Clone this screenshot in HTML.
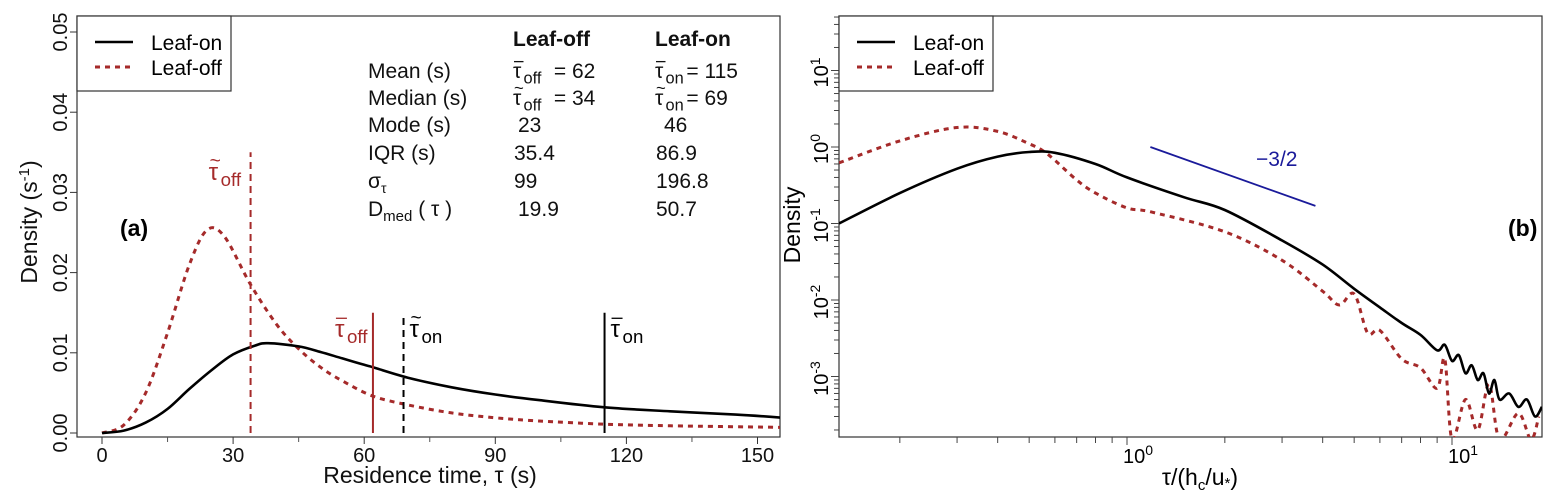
<!DOCTYPE html>
<html><head><meta charset="utf-8"><style>
body{margin:0;background:#fff;}
svg{font-family:"Liberation Sans",sans-serif;display:block;}
</style></head><body>
<svg id="chart" width="1557" height="500" viewBox="0 0 1557 500">
<defs>
<clipPath id="clipA"><rect x="77" y="16" width="703" height="421"/></clipPath>
<clipPath id="clipB"><rect x="839" y="16" width="703" height="421"/></clipPath>
</defs>
<g id="pa"></g>
<g id="pb"></g>
</svg>
<script>
// Panel (a) data
const aOnX = [0,5,10,15,20,25,30,35,38,45,50,55,60,62,70,80,90,100,115,130,145,156];
const aOnY = [0,0.0003,0.0013,0.003,0.0055,0.0078,0.0098,0.0109,0.0112,0.0108,0.0101,0.0093,0.0085,0.0082,0.0069,0.0057,0.0048,0.0041,0.0032,0.0027,0.0023,0.0019];
const aOffX = [0,5,10,15,20,24,28,34,40,45,50,55,62,70,80,90,100,115,130,156];
const aOffY = [0,0.001,0.005,0.0125,0.021,0.0253,0.0245,0.0185,0.0135,0.0105,0.0082,0.0065,0.0046,0.0035,0.0025,0.0019,0.0015,0.0011,0.0009,0.0007];
const aXTicks = [0,30,60,90,120,150];
const aYTicks = [0,0.01,0.02,0.03,0.04,0.05];
const aYLabels = ["0.00","0.01","0.02","0.03","0.04","0.05"];
const vlineX = [34,62,69,115];
const vlineTop = [0.035,0.015,0.0146,0.015];
// Panel (b) data
const bOnX = [0.13,0.2,0.3,0.4,0.5,0.6,0.8,1.0,1.5,2,3,4,5,6,7,8,9,9.5,10,10.5,11,11.5,12,12.5,13,13.5,14,15,16,17,18,18.9];
const bOnY = [0.1,0.25,0.52,0.75,0.86,0.84,0.6,0.4,0.22,0.15,0.06,0.029,0.014,0.008,0.005,0.0035,0.0022,0.0026,0.0016,0.0019,0.0011,0.0014,0.0009,0.0011,0.0006,0.0009,0.0005,0.0006,0.0004,0.0005,0.0003,0.0004];
const bOffX = [0.13,0.2,0.3,0.4,0.5,0.55,0.6,0.7,0.8,1.0,1.2,2,3,4,4.5,5,5.5,6,7,8,9,9.5,10,11,12,13,14,16,17.5,18.5];
const bOffY = [0.62,1.2,1.8,1.6,1.1,0.9,0.67,0.37,0.25,0.16,0.14,0.078,0.033,0.013,0.0086,0.012,0.0037,0.004,0.0017,0.0013,0.0007,0.0017,0.00015,0.0005,0.0002,0.0008,0.00015,0.00033,0.00015,0.0003];
const bSlopeX = [1.18,3.8];
const bSlopeY = [1.0,0.17];
const bXDec = [0,1];
const bYDec = [-3,-2,-1,0,1];

const NS="http://www.w3.org/2000/svg";
function mk(parent,tag,attrs,text){const e=document.createElementNS(NS,tag);for(const k in attrs)e.setAttribute(k,attrs[k]);if(text!==undefined)e.textContent=text;parent.appendChild(e);return e;}
const pa=document.getElementById('pa'), pb=document.getElementById('pb');
const RED="#a52a2a";

const ax=v=>102+v*4.37, ay=v=>433-v*8020;
const bx=v=>1127+325*Math.log10(v), by=v=>147-76.5*Math.log10(v);

function smooth(pts){let d=`M${pts[0][0]},${pts[0][1]}`;for(let i=0;i<pts.length-1;i++){const p0=pts[Math.max(i-1,0)],p1=pts[i],p2=pts[i+1],p3=pts[Math.min(i+2,pts.length-1)];const c1=[p1[0]+(p2[0]-p0[0])/6,p1[1]+(p2[1]-p0[1])/6],c2=[p2[0]-(p3[0]-p1[0])/6,p2[1]-(p3[1]-p1[1])/6];d+=`C${c1[0].toFixed(1)},${c1[1].toFixed(1)} ${c2[0].toFixed(1)},${c2[1].toFixed(1)} ${p2[0].toFixed(1)},${p2[1].toFixed(1)}`;}return d;}

// tau with mark drawn above as separate glyph
function tau(parent,x,y,mark,sub,col,fs,rest,name){
 const g=mk(parent,'g',{fill:col});
 mk(g,'text',{x:x,y:y,'font-size':fs},'τ');
 if(mark==='bar'){mk(g,'line',{x1:x+1,x2:x+fs*0.5,y1:y-fs*0.78,y2:y-fs*0.78,stroke:col,'stroke-width':1.3});}
 else {mk(g,'text',{x:x+1,y:y-fs*0.55,'font-size':fs*0.8},'~');}
 const t=mk(g,'text',{x:x+fs*0.5,y:y+fs*0.25,'font-size':fs*0.78},sub);
 if(rest){const r=mk(g,'text',{x:x+fs*0.5+sub.length*fs*0.45+2,y:y,'font-size':fs},rest);}
 return g;}

// ---------- Panel A ----------
let e;
e=mk(pa,'rect',{x:77,y:16,width:703,height:421,fill:'none',stroke:'#333','stroke-width':1.2});

aXTicks.forEach(t=>{e=mk(pa,'line',{x1:ax(t),x2:ax(t),y1:437,y2:444,stroke:'#333'});
 e=mk(pa,'text',{x:ax(t),y:462,'font-size':20,'text-anchor':'middle',fill:'#111'},String(t));});
[15,45,75,105,135].forEach(t=>{e=mk(pa,'line',{x1:ax(t),x2:ax(t),y1:437,y2:442,stroke:'#555'});});
aYTicks.forEach((t,i)=>{const y=ay(t);e=mk(pa,'line',{x1:70,x2:77,y1:y,y2:y,stroke:'#333'});
 e=mk(pa,'text',{x:0,y:0,'font-size':20,'text-anchor':'middle',fill:'#111',transform:`translate(67,${y}) rotate(-90)`},aYLabels[i]);});
e=mk(pa,'text',{x:430,y:483,'font-size':23,'text-anchor':'middle',fill:'#111'},'Residence time, τ (s)');
e=mk(pa,'text',{x:0,y:0,'font-size':23,'text-anchor':'middle',fill:'#111',transform:'translate(37,222) rotate(-90)'});
e.innerHTML='Density (s<tspan dy="-8" font-size="15">-1</tspan><tspan dy="8">)</tspan>';

const ga=mk(pa,'g',{'clip-path':'url(#clipA)'});
e=mk(ga,'path',{d:smooth(aOffX.map((x,i)=>[ax(x),ay(aOffY[i])])),fill:'none',stroke:RED,'stroke-width':3,'stroke-dasharray':'5,5'});
e=mk(ga,'path',{d:smooth(aOnX.map((x,i)=>[ax(x),ay(aOnY[i])])),fill:'none',stroke:'#000','stroke-width':2.6});
const vStyles=[{c:RED,d:'7,5'},{c:RED,d:''},{c:'#000',d:'7,5'},{c:'#000',d:''}];
const vNames=['median-leaf-off-line','mean-leaf-off-line','median-leaf-on-line','mean-leaf-on-line'];
vlineX.forEach((x,i)=>{e=mk(ga,'line',{x1:ax(x),x2:ax(x),y1:ay(0),y2:ay(vlineTop[i]),stroke:vStyles[i].c,'stroke-width':2,'stroke-dasharray':vStyles[i].d});});
tau(pa,ax(34)-42,180,'tilde','off',RED,24,'','median-leaf-off-label');
tau(pa,ax(62)-38,337,'bar','off',RED,24,'','mean-leaf-off-label');
tau(pa,ax(69)+6,337,'tilde','on','#000',24,'','median-leaf-on-label');
tau(pa,ax(115)+6,337,'bar','on','#000',24,'','mean-leaf-on-label');
e=mk(pa,'text',{x:120,y:236,'font-size':23,'font-weight':'bold'},'(a)');

function legend(p,x0,name){const g=mk(p,'g',{});
 mk(g,'rect',{x:x0,y:16,width:154,height:75,fill:'#fff',stroke:'#333','stroke-width':1.2});
 mk(g,'line',{x1:x0+18,x2:x0+56,y1:42,y2:42,stroke:'#000','stroke-width':2.6});
 mk(g,'line',{x1:x0+18,x2:x0+56,y1:67,y2:67,stroke:RED,'stroke-width':3,'stroke-dasharray':'5,5'});
 mk(g,'text',{x:x0+74,y:50,'font-size':21},'Leaf-on');mk(g,'text',{x:x0+74,y:75,'font-size':21},'Leaf-off');}
legend(pa,77,'legend-a');

// stats table
const tbl=mk(pa,'g',{'font-size':21,fill:'#111'});
mk(tbl,'text',{x:513,y:46,'font-weight':'bold'},'Leaf-off');mk(tbl,'text',{x:655,y:46,'font-weight':'bold'},'Leaf-on');
const rowsY=[78,105,132,160,188,216];
const labels=['Mean (s)','Median (s)','Mode (s)','IQR (s)','σ<tspan dy="5" font-size="14">τ</tspan>','D<tspan dy="5" font-size="15">med</tspan><tspan dy="-5"> ( τ )</tspan>'];
const plainOff=['','','23','35.4','99','19.9'];
const plainOn=['','','46','86.9','196.8','50.7'];
rowsY.forEach((y,i)=>{let t=mk(tbl,'text',{x:368,y:y});t.innerHTML=labels[i];
 if(i>=2){mk(tbl,'text',{x:i==2||i==5?518:514,y:y},plainOff[i]);mk(tbl,'text',{x:i==2?664:656,y:y},plainOn[i]);}});
tau(tbl,513,78,'bar','off','#111',21,'= 62','mean-leaf-off-value');
tau(tbl,513,105,'tilde','off','#111',21,'= 34','median-leaf-off-value');
tau(tbl,655,78,'bar','on','#111',21,'= 115','mean-leaf-on-value');
tau(tbl,655,105,'tilde','on','#111',21,'= 69','median-leaf-on-value');

// ---------- Panel B ----------
e=mk(pb,'rect',{x:839,y:16,width:703,height:421,fill:'none',stroke:'#333','stroke-width':1.2});
for(let d=-1;d<=1;d++)for(let m=1;m<10;m++){const v=m*Math.pow(10,d);const x=bx(v);if(x<839||x>1542)continue;
 e=mk(pb,'line',{x1:x,x2:x,y1:437,y2:m==1?445:443,stroke:'#444'});}
bXDec.forEach(d=>{e=mk(pb,'text',{x:bx(Math.pow(10,d))-4,y:463,'font-size':20});e.innerHTML=`10<tspan dy="-8" font-size="14">${d}</tspan>`;});
for(let d=-4;d<=1;d++)for(let m=1;m<10;m++){const v=m*Math.pow(10,d);const y=by(v);if(y<16||y>437)continue;
 e=mk(pb,'line',{x1:m==1?831:834,x2:839,y1:y,y2:y,stroke:'#444'});}
bYDec.forEach(d=>{e=mk(pb,'text',{x:0,y:0,'font-size':20,'text-anchor':'middle',transform:`translate(828,${by(Math.pow(10,d))+2}) rotate(-90)`});e.innerHTML=`10<tspan dy="-8" font-size="14">${d}</tspan>`;});
e=mk(pb,'text',{x:0,y:0,'font-size':23,'text-anchor':'middle',transform:'translate(800,225) rotate(-90)'},'Density');
e=mk(pb,'text',{x:1200,y:485,'font-size':23,'text-anchor':'middle'});e.innerHTML='τ/(h<tspan dy="5" font-size="15">c</tspan><tspan dy="-5">/u</tspan><tspan dy="3" font-size="15">*</tspan><tspan dy="-3">)</tspan>';
const gb=mk(pb,'g',{'clip-path':'url(#clipB)'});
e=mk(gb,'path',{d:smooth(bOffX.map((x,i)=>[bx(x),by(bOffY[i])])),fill:'none',stroke:RED,'stroke-width':3,'stroke-dasharray':'5,5'});
e=mk(gb,'path',{d:smooth(bOnX.map((x,i)=>[bx(x),by(bOnY[i])])),fill:'none',stroke:'#000','stroke-width':2.6});
e=mk(gb,'line',{x1:bx(bSlopeX[0]),y1:by(bSlopeY[0]),x2:bx(bSlopeX[1]),y2:by(bSlopeY[1]),stroke:'#1a1a9a','stroke-width':1.8});
e=mk(pb,'text',{x:1256,y:166,'font-size':21,fill:'#1a1a9a'},'−3/2');
e=mk(pb,'text',{x:1508,y:236,'font-size':23,'font-weight':'bold'},'(b)');
legend(pb,839,'legend-b');
</script>
</body></html>
